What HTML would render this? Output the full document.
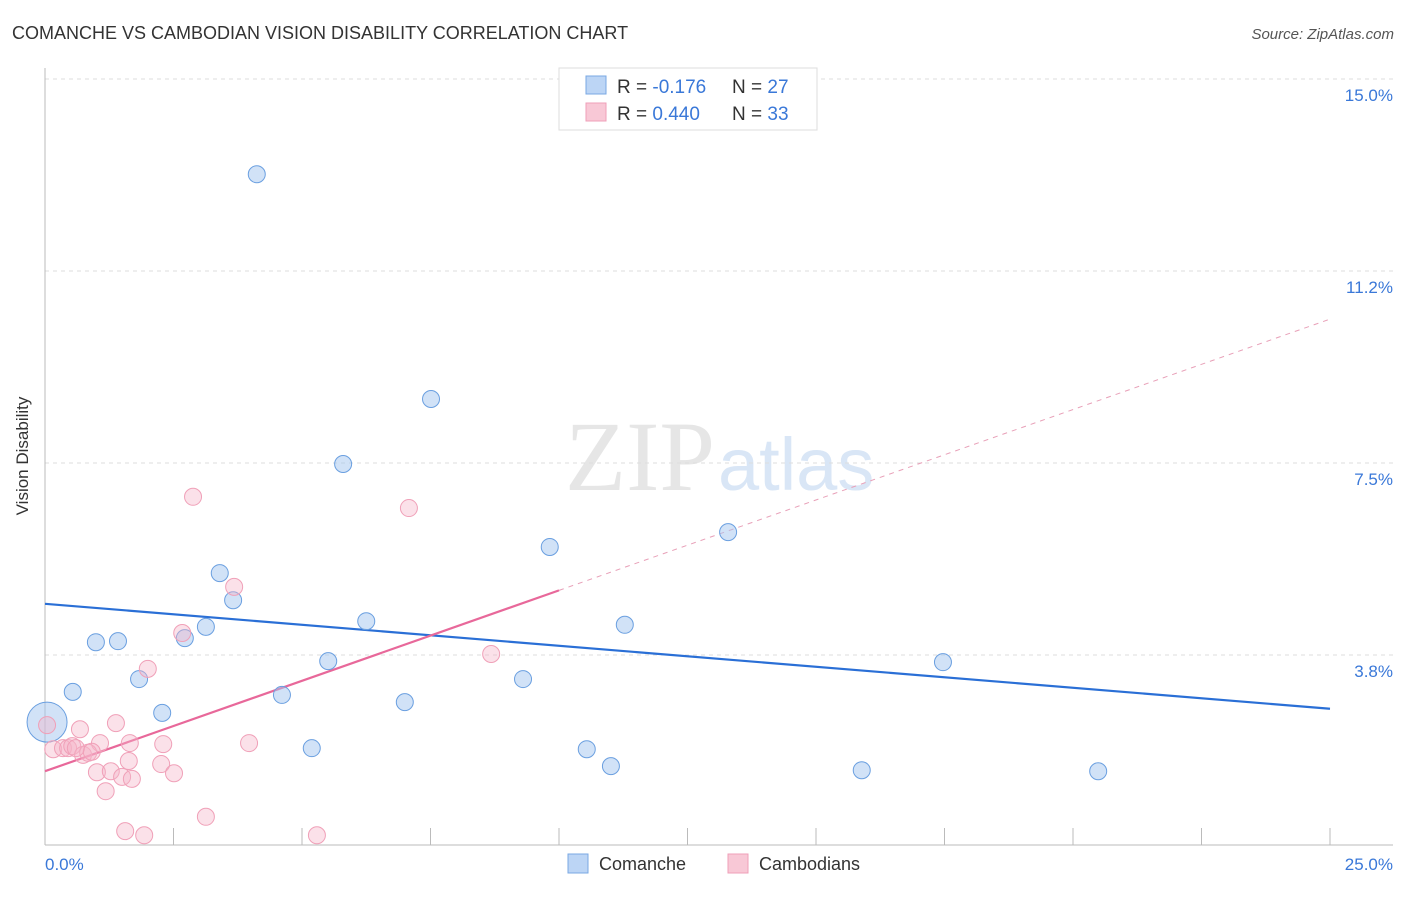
<!DOCTYPE html>
<html><head><meta charset="utf-8"><style>
body{margin:0;background:#fff;font-family:"Liberation Sans",sans-serif;}
</style></head><body>
<svg width="1406" height="892" xmlns="http://www.w3.org/2000/svg" style="font-family:'Liberation Sans',sans-serif">
<text x="12" y="39" font-size="18" fill="#333">COMANCHE VS CAMBODIAN VISION DISABILITY CORRELATION CHART</text>
<text x="1394" y="39" font-size="15" fill="#555" text-anchor="end" font-style="italic">Source: ZipAtlas.com</text>
<text x="715" y="490" font-size="100" fill="#e6e6e6" text-anchor="end" font-family="Liberation Serif,serif">ZIP</text>
<text x="718" y="490" font-size="74" fill="#d9e6f6">atlas</text>
<g id="grid"></g>
<line x1="45" y1="68" x2="45" y2="845" stroke="#bbb"/>
<line x1="45" y1="845" x2="1393" y2="845" stroke="#bbb"/>
<g id="ticks"></g>
<text x="28" y="456" font-size="17" fill="#333" text-anchor="middle" transform="rotate(-90 28 456)">Vision Disability</text>
<text x="45" y="870" font-size="17" fill="#3a78d8">0.0%</text>
<text x="1393" y="870" font-size="17" fill="#3a78d8" text-anchor="end">25.0%</text>
<g id="trends"></g>
<g id="pts"></g>
<g>
<rect x="559" y="68" width="258" height="62" fill="#fff" stroke="#ddd"/>
<rect x="586" y="76" width="20" height="18" fill="#bcd5f5" stroke="#7aa8e3"/>
<text x="617" y="93" font-size="19" fill="#333">R = <tspan fill="#3a78d8">-0.176</tspan></text>
<text x="732" y="93" font-size="19" fill="#333">N = <tspan fill="#3a78d8">27</tspan></text>
<rect x="586" y="103" width="20" height="18" fill="#f8c8d6" stroke="#ef9fb8"/>
<text x="617" y="120" font-size="19" fill="#333">R = <tspan fill="#3a78d8">0.440</tspan></text>
<text x="732" y="120" font-size="19" fill="#333">N = <tspan fill="#3a78d8">33</tspan></text>
</g>
<g>
<rect x="568" y="854" width="20" height="19" fill="#bcd5f5" stroke="#7aa8e3"/>
<text x="599" y="870" font-size="18" fill="#333">Comanche</text>
<rect x="728" y="854" width="20" height="19" fill="#f8c8d6" stroke="#ef9fb8"/>
<text x="759" y="870" font-size="18" fill="#333">Cambodians</text>
</g>
</svg>
<script>
const yTicks=[15.0,11.2,7.5,3.8];
const yTickLabels=["15.0%","11.2%","7.5%","3.8%"];
const yTickPos=[15,11.25,7.5,3.75];
const xTickVals=[0,2.5,5,7.5,10,12.5,15,17.5,20,22.5,25];
const comancheX=[4.12,7.51,5.80,9.82,13.29,3.40,3.66,6.25,11.28,3.13,0.99,1.42,2.72,5.51,17.47,1.83,9.30,0.54,4.61,7.00,2.28,5.19,10.54,11.01,15.89,20.49,0.04];
const comancheY=[13.14,8.75,7.48,5.86,6.15,5.35,4.82,4.41,4.34,4.30,4.00,4.02,4.08,3.63,3.61,3.28,3.28,3.03,2.97,2.83,2.62,1.93,1.91,1.58,1.50,1.48,2.44];
const cambX=[2.88,7.08,3.68,2.67,8.68,2.00,1.38,0.68,0.04,1.65,2.30,3.97,0.16,0.35,0.45,0.53,1.07,0.74,0.84,0.91,0.60,1.01,1.28,1.50,1.69,1.18,1.63,2.26,2.51,1.56,1.93,3.13,5.29];
const cambY=[6.84,6.62,5.08,4.18,3.77,3.48,2.42,2.30,2.38,2.03,2.01,2.03,1.91,1.93,1.93,1.97,2.03,1.80,1.84,1.86,1.93,1.46,1.48,1.37,1.33,1.09,1.68,1.62,1.44,0.31,0.23,0.59,0.23];
const blueTrend=[4.75,2.70];
const pinkTrend=[1.48,10.31];
const NS="http://www.w3.org/2000/svg";
const sx=v=>45+v/25*1285, sy=v=>847-v/3.75*192;
function mk(t,a,p){const e=document.createElementNS(NS,t);for(const k in a)e.setAttribute(k,a[k]);document.getElementById(p).appendChild(e);return e;}
yTickPos.forEach((v,i)=>{
 const l=mk('line',{x1:45,x2:1393,y1:sy(v),y2:sy(v),stroke:'#ddd','stroke-dasharray':'4,4'},'grid');
 
 
 const t=mk('text',{x:1393,y:sy(v)+22,'font-size':17,fill:'#3a78d8','text-anchor':'end'},'grid');t.textContent=yTickLabels[i];
 
 
});
xTickVals.forEach(v=>{
 const l=mk('line',{x1:sx(v),x2:sx(v),y1:828,y2:845,stroke:'#bbb'},'ticks');
 
 
});
let l=mk('line',{x1:sx(0),y1:sy(blueTrend[0]),x2:sx(25),y2:sy(blueTrend[1]),stroke:'#2a6fd6','stroke-width':2.2},'trends');


const pAt=x=>pinkTrend[0]+(pinkTrend[1]-pinkTrend[0])*x/25;
l=mk('line',{x1:sx(0),y1:sy(pAt(0)),x2:sx(10),y2:sy(pAt(10)),stroke:'#e8689a','stroke-width':2.2},'trends');


l=mk('line',{x1:sx(10),y1:sy(pAt(10)),x2:sx(25),y2:sy(pAt(25)),stroke:'#e8a0b8','stroke-width':1,'stroke-dasharray':'5,5'},'trends');


comancheX.forEach((x,i)=>{
 const c=mk('circle',{cx:sx(x),cy:sy(comancheY[i]),r:i==26?20:8.5,fill:'rgba(164,198,240,0.5)',stroke:'#6a9fe0','stroke-width':1},'pts');
 
 
});
cambX.forEach((x,i)=>{
 const c=mk('circle',{cx:sx(x),cy:sy(cambY[i]),r:8.5,fill:'rgba(246,180,200,0.4)',stroke:'#f0a0b8','stroke-width':1},'pts');
 
 
});
</script>
</body></html>
